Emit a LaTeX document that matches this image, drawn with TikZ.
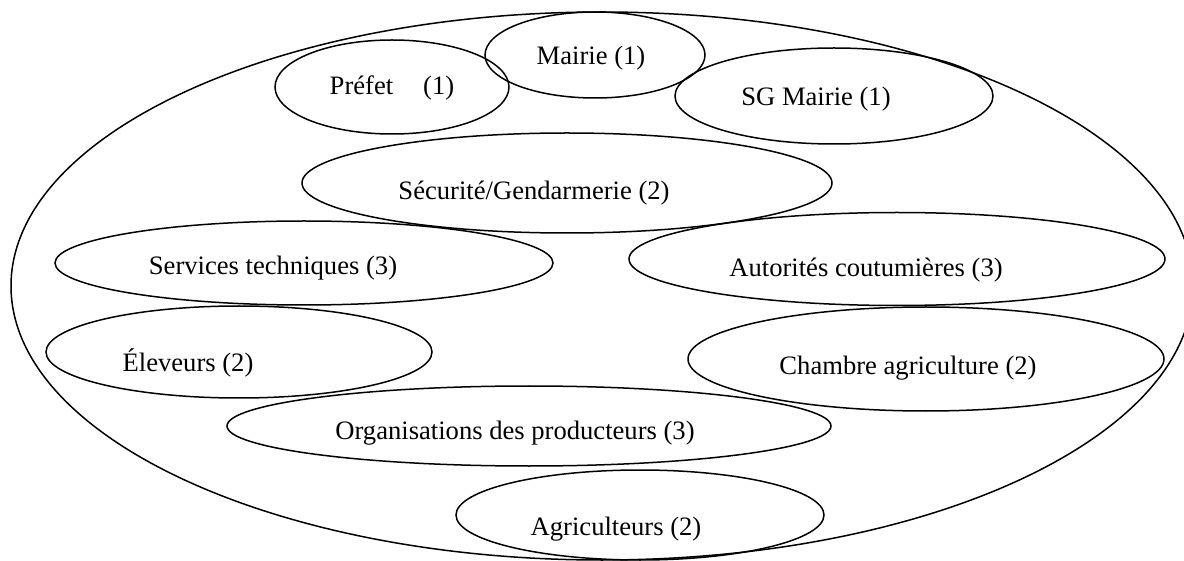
\documentclass[tikz,border=0pt]{standalone}
\usepackage{fontspec}
\setmainfont{Liberation Serif}
\usetikzlibrary{shapes.geometric}
\tikzset{
  blob/.style={draw, ellipse, line width=1.5pt, inner sep=0pt},
  lbl/.style={font=\fontsize{26.6pt}{32pt}\selectfont, anchor=base, inner sep=0pt}
}
\begin{document}
\begin{tikzpicture}[x=1pt,y=-1pt]
  \useasboundingbox (0,0) rectangle (1184,561);
  % Outer ellipse
  \node (all)       at (602,286) [blob, minimum width=1182pt, minimum height=548pt] {};
  % Actor ellipses
  \node (prefet)    at (392,87)  [blob, minimum width=234pt, minimum height=94pt]  {};
  \node (mairie)    at (595,55)  [blob, minimum width=220pt, minimum height=86pt]  {};
  \node (sgmairie)  at (834,96)  [blob, minimum width=318pt, minimum height=96pt]  {};
  \node (securite)  at (567,183) [blob, minimum width=530pt, minimum height=100pt] {};
  \node (services)  at (304,263) [blob, minimum width=498pt, minimum height=84pt]  {};
  \node (autorites) at (897,259) [blob, minimum width=536pt, minimum height=93pt]  {};
  \node (eleveurs)  at (239,352) [blob, minimum width=386pt, minimum height=92pt]  {};
  \node (chambre)   at (926,359) [blob, minimum width=476pt, minimum height=104pt] {};
  \node (orgprod)   at (529,426) [blob, minimum width=604pt, minimum height=80pt]  {};
  \node (agri)      at (640,515) [blob, minimum width=368pt, minimum height=90pt]  {};
  % Labels
  \node (prefet-t)    at (392,95)  [lbl] {Préfet\hspace{30pt}(1)};
  \node (mairie-t)    at (591,65)  [lbl] {Mairie (1)};
  \node (sgmairie-t)  at (816,106) [lbl] {SG Mairie (1)};
  \node (securite-t)  at (534,200) [lbl] {Sécurité/Gendarmerie (2)};
  \node (services-t)  at (273,275) [lbl] {Services techniques (3)};
  \node (autorites-t) at (866,277) [lbl] {Autorités coutumières (3)};
  \node (eleveurs-t)  at (188,372) [lbl] {Éleveurs (2)};
  \node (chambre-t)   at (908,374) [lbl] {Chambre agriculture (2)};
  \node (orgprod-t)   at (515,439) [lbl] {Organisations des producteurs (3)};
  \node (agri-t)      at (616,535) [lbl] {Agriculteurs (2)};
\end{tikzpicture}
\end{document}
